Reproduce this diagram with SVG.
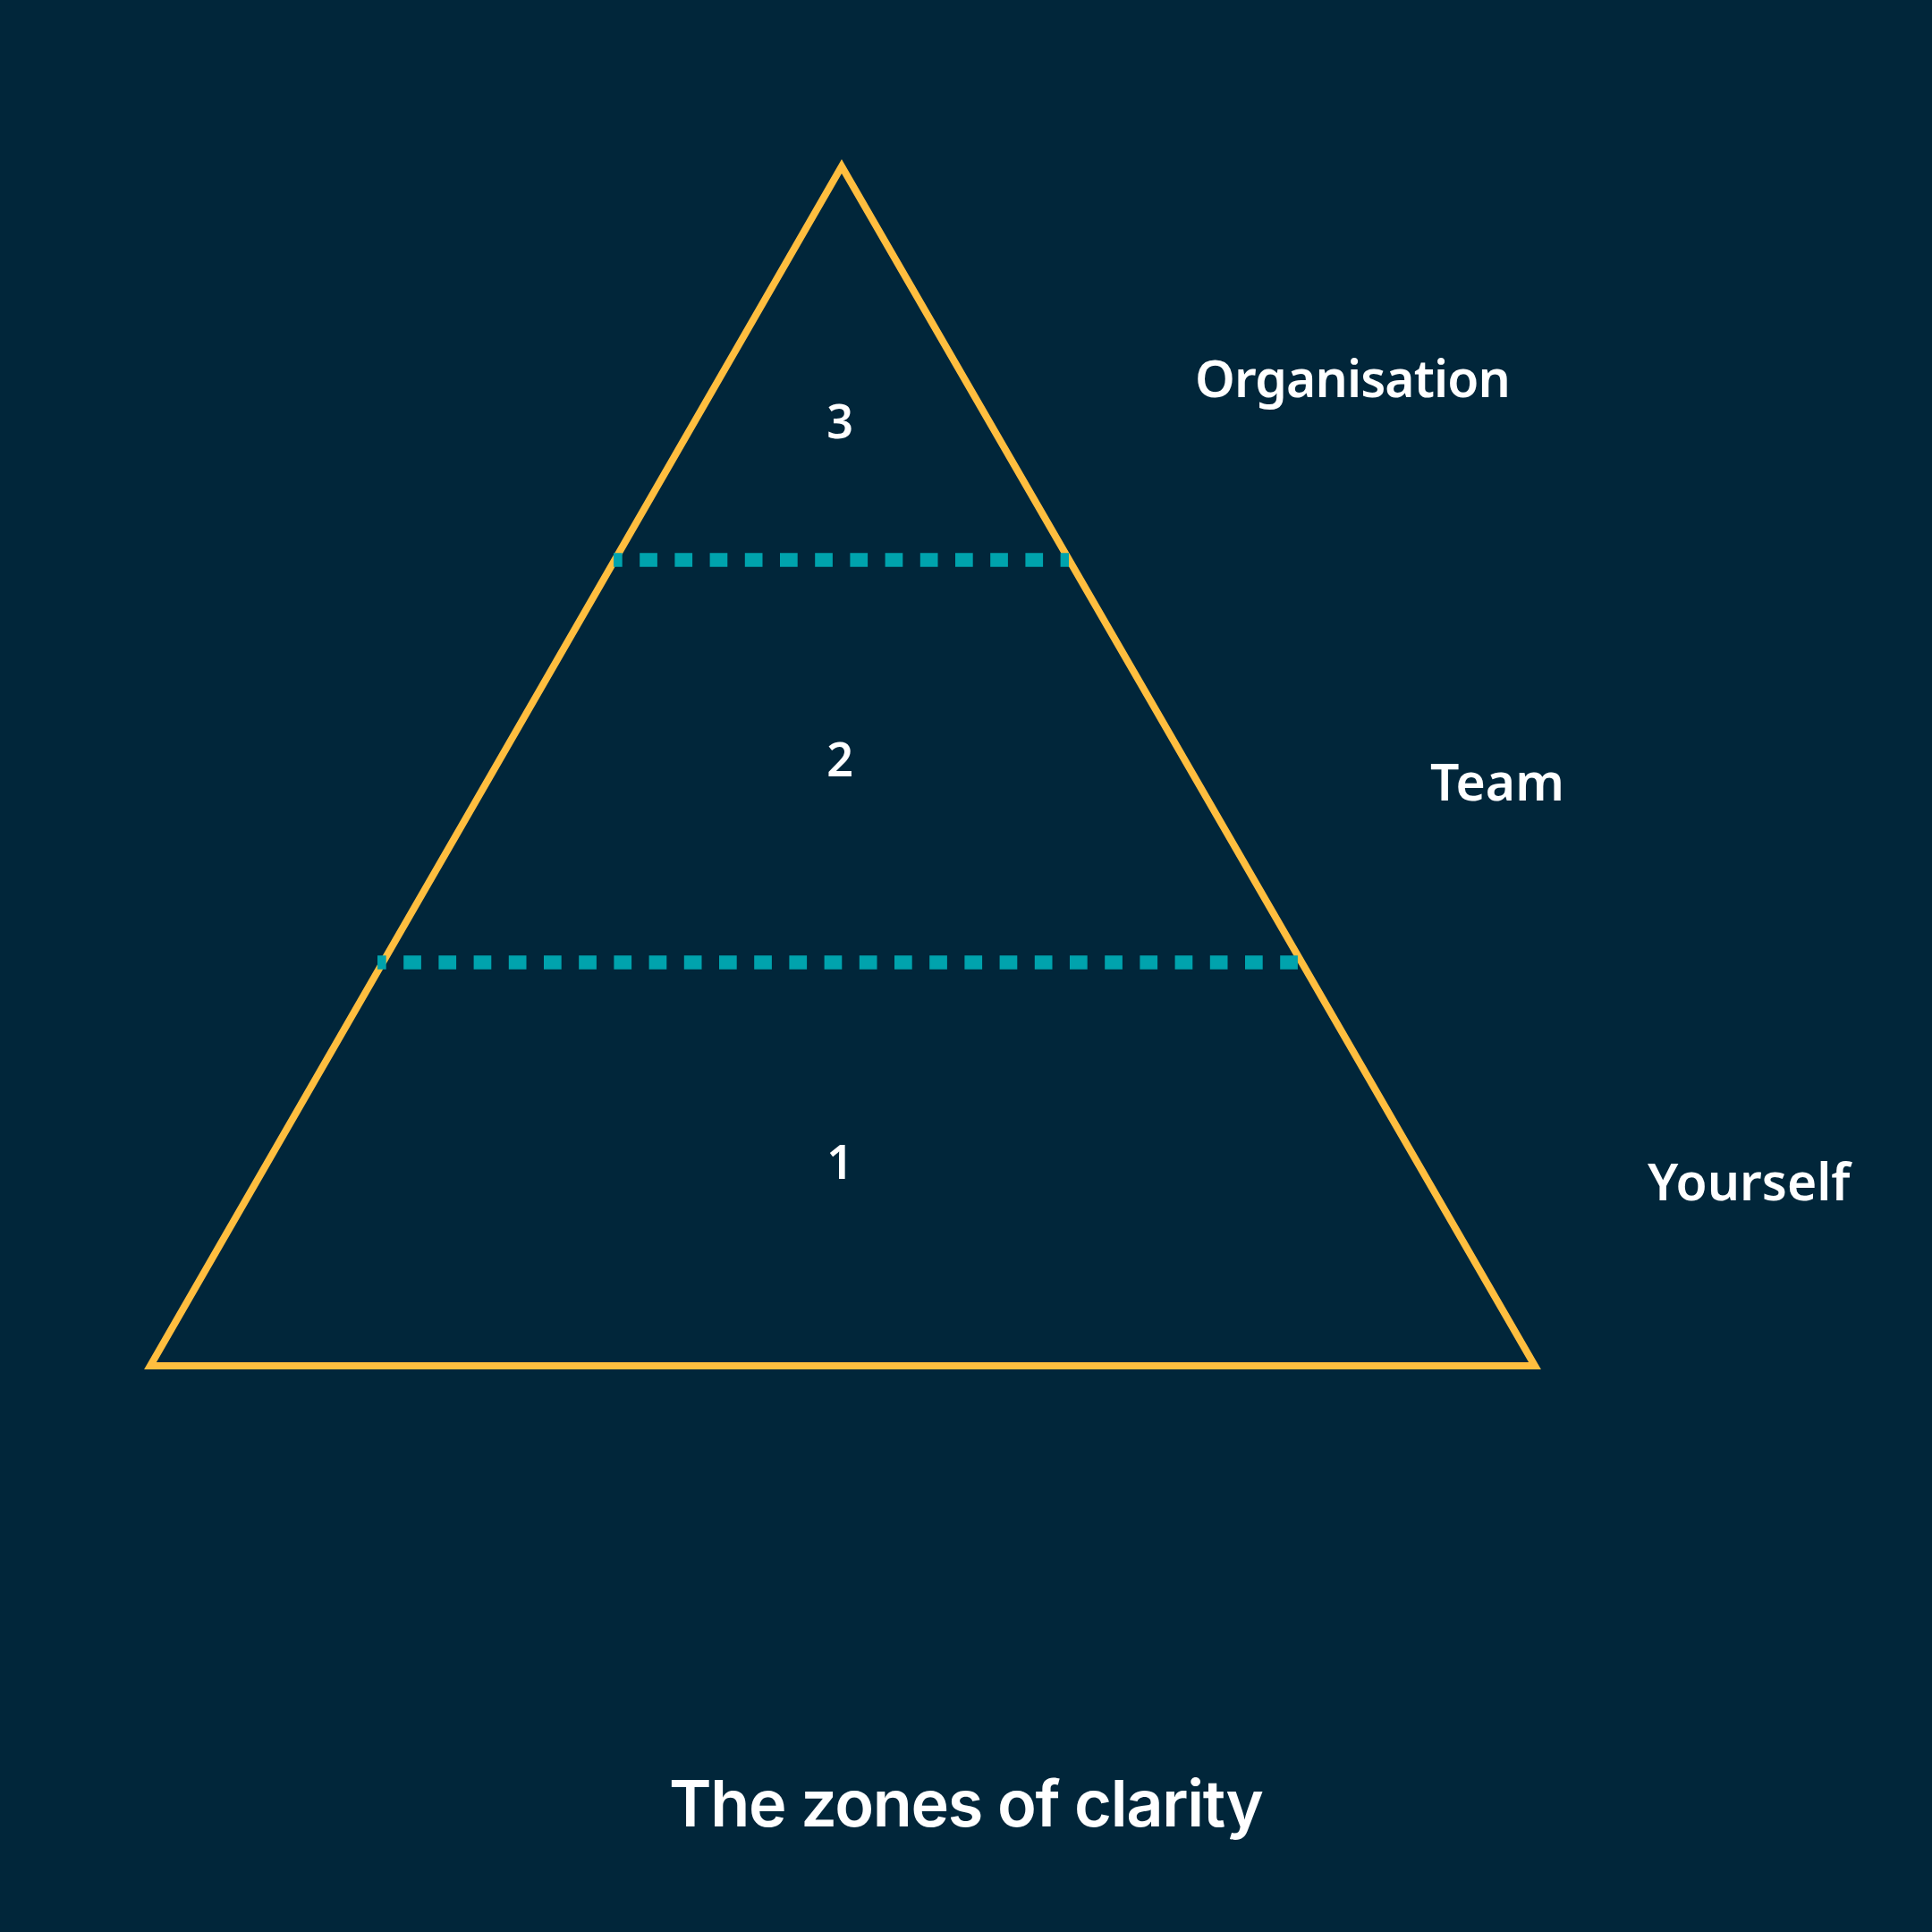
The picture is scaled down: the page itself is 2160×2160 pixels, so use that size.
<svg xmlns="http://www.w3.org/2000/svg" width="2160" height="2160" viewBox="0 0 2160 2160">
<style>
.tri{fill:none;stroke:#FFBE3F;stroke-width:8;stroke-linejoin:miter;stroke-miterlimit:10}
.div{fill:none;stroke:#00A3AD;stroke-width:15.5;stroke-dasharray:19.7 19.5;stroke-dashoffset:10}
.num{font-family:"Noto Sans","Liberation Sans",sans-serif;font-weight:600;font-size:52px;fill:#FFFFFF;text-anchor:middle}
.lbl{font-family:"Noto Sans","Liberation Sans",sans-serif;font-weight:600;font-size:57px;fill:#FFFFFF}
.title{font-family:Inter,"Liberation Sans",sans-serif;font-weight:600;font-size:72px;fill:#FFFFFF;letter-spacing:-1.3px}
</style>
<rect x="0" y="0" width="2160" height="2160" fill="#01263A"/>
<g id="pyramid">
<polygon class="tri" points="941,186 1716,1527 168,1527"/>
</g>
<g id="connectors">
<line class="div" x1="686" y1="626" x2="1195" y2="626"/>
<line class="div" x1="422" y1="1076" x2="1461" y2="1076"/>
</g>
<g id="zone3"><text class="num" x="939" y="490">3</text></g>
<g id="zone2"><text class="num" x="939" y="868">2</text></g>
<g id="zone1"><text class="num" x="939" y="1318">1</text></g>
<g id="label-organisation"><text class="lbl" x="1336" y="444" letter-spacing="-0.9">Organisation</text></g>
<g id="label-team"><text class="lbl" x="1599" y="895">Team</text></g>
<g id="label-yourself"><text class="lbl" x="1842" y="1342">Yourself</text></g>
<g id="title"><text class="title" x="748" y="2042">The zones of clarity</text></g>
</svg>
